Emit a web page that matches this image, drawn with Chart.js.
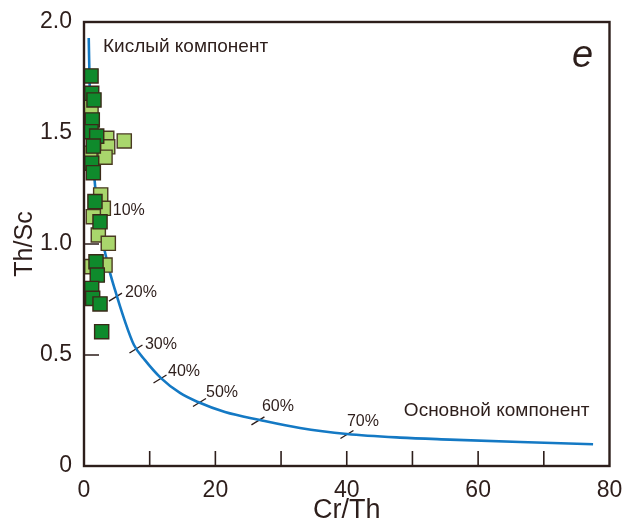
<!DOCTYPE html>
<html>
<head>
<meta charset="utf-8">
<script src="https://cdn.jsdelivr.net/npm/chart.js@4/dist/chart.umd.min.js"></script>
<style>
  html, body { margin: 0; padding: 0; background: #ffffff; }
  #wrap { width: 629px; height: 529px; }
</style>
</head>
<body>
<div id="wrap"><canvas id="c" width="629" height="529"></canvas></div>
<script>
// Mixing curve between the felsic and mafic end-members (Cr/Th vs Th/Sc)
const curveX = [0.72, 0.91, 1.14, 1.42, 1.75, 2.21, 2.82, 3.65, 4.72, 6.16, 7.61, 9.28, 11.72, 14.61, 17.35, 21.46, 26.79, 32.88, 40.03, 48.1, 55.7, 66.4, 77.5];
const curveY = [1.928, 1.649, 1.468, 1.356, 1.243, 1.131, 1.018, 0.905, 0.793, 0.658, 0.545, 0.477, 0.396, 0.329, 0.288, 0.243, 0.207, 0.171, 0.144, 0.128, 0.119, 0.108, 0.098];

// Mixing proportions marked along the curve
const mixLabels = ['10%', '20%', '30%', '40%', '50%', '60%', '70%'];
const mixX = [2.25, 4.79, 7.91, 11.57, 17.58, 26.48, 40.03];
const mixY = [1.122, 0.761, 0.527, 0.392, 0.286, 0.203, 0.142];

// Samples, dark green group
const darkX = [1.07, 1.17, 1.52, 1.26, 1.07, 1.93, 1.42, 1.17, 1.42, 1.67, 2.44, 1.83, 2.02, 1.17, 1.32, 2.44, 2.69];
const darkY = [1.757, 1.679, 1.649, 1.559, 1.506, 1.486, 1.441, 1.364, 1.321, 1.191, 1.100, 0.920, 0.860, 0.800, 0.755, 0.730, 0.605];

// Samples, light green group
const lightX = [1.07, 3.46, 6.13, 3.61, 0.91, 3.20, 2.54, 2.94, 1.42, 2.18, 3.70, 1.17, 3.20];
const lightY = [1.618, 1.476, 1.464, 1.438, 1.409, 1.391, 1.221, 1.161, 1.123, 1.041, 1.003, 0.898, 0.905];

// Axis labels
const xTitle = 'Cr/Th';
const yTitle = 'Th/Sc';
const felsicLabel = 'Кислый компонент';
const maficLabel = 'Основной компонент';
const panelLetter = 'e';

const ink = '#2d1e1b';
const FONT = '"Liberation Sans", Arial, Helvetica, sans-serif';

const toPoints = (xs, ys) => xs.map((x, i) => ({ x: x, y: ys[i] }));

// Inward tick marks on both axes, frame and text annotations
const axisTicks = {
  id: 'axisTicks',
  beforeDatasetsDraw(chart) {
    const { ctx, chartArea: a, scales: { x, y } } = chart;
    ctx.save();
    ctx.strokeStyle = ink;
    ctx.lineWidth = 1.6;
    ctx.beginPath();
    x.ticks.forEach(t => {
      if (t.value <= x.min || t.value >= x.max) return;
      const px = x.getPixelForValue(t.value);
      ctx.moveTo(px, a.bottom);
      ctx.lineTo(px, a.bottom - 15);
    });
    y.ticks.forEach(t => {
      if (t.value <= y.min || t.value >= y.max) return;
      const py = y.getPixelForValue(t.value);
      ctx.moveTo(a.left, py);
      ctx.lineTo(a.left + 15, py);
    });
    ctx.stroke();

    // short marks crossing the mixing curve
    ctx.lineWidth = 1.4;
    ctx.beginPath();
    mixX.forEach((mx, i) => {
      const px = x.getPixelForValue(mx);
      const py = y.getPixelForValue(mixY[i]);
      ctx.moveTo(px - 6.5, py + 4);
      ctx.lineTo(px + 6.5, py - 4);
    });
    ctx.stroke();
    ctx.restore();
  },
  afterDatasetsDraw(chart) {
    const { ctx, chartArea: a, scales: { x, y } } = chart;
    ctx.save();
    // plot frame
    ctx.strokeStyle = ink;
    ctx.lineWidth = 2.4;
    ctx.strokeRect(a.left, a.top, a.right - a.left, a.bottom - a.top);

    // percentage labels next to the curve marks
    const offs = [[14, -6], [9.5, -4], [9, -4], [8, -7], [6.5, -9.5], [4, -14], [0, -13]];
    ctx.fillStyle = ink;
    ctx.font = '16px ' + FONT;
    ctx.textAlign = 'left';
    ctx.textBaseline = 'middle';
    mixLabels.forEach((lab, i) => {
      const px = x.getPixelForValue(mixX[i]);
      const py = y.getPixelForValue(mixY[i]);
      ctx.fillText(lab, px + offs[i][0], py + offs[i][1]);
    });

    // end-member names
    ctx.font = '19px ' + FONT;
    ctx.fillText(felsicLabel, a.left + 19, a.top + 25);
    ctx.textAlign = 'right';
    ctx.fillText(maficLabel, a.right - 20, a.top + 388.5);

    // panel letter
    ctx.font = 'italic 38px ' + FONT;
    ctx.textAlign = 'center';
    ctx.textBaseline = 'alphabetic';
    ctx.fillText(panelLetter, a.right - 27, a.top + 45);
    ctx.restore();
  }
};

new Chart(document.getElementById('c'), {
  type: 'scatter',
  data: {
    datasets: [
      {
        label: 'dark',
        data: toPoints(darkX, darkY),
        pointStyle: 'rect',
        pointRadius: 10,
        pointBackgroundColor: '#0f8a2c',
        pointBorderColor: '#3a2a18',
        pointBorderWidth: 1.4
      },
      {
        label: 'light',
        data: toPoints(lightX, lightY),
        pointStyle: 'rect',
        pointRadius: 10,
        pointBackgroundColor: '#a9d66c',
        pointBorderColor: '#4a3a22',
        pointBorderWidth: 1.4
      },
      {
        label: 'mixing',
        data: toPoints(curveX, curveY),
        showLine: true,
        borderColor: '#1479c4',
        borderWidth: 2.6,
        pointRadius: 0,
        cubicInterpolationMode: 'monotone',
        fill: false
      }
    ]
  },
  options: {
    responsive: false,
    animation: false,
    devicePixelRatio: 1,
    layout: { padding: { top: 22, right: 19.5, left: 0, bottom: 0 } },
    plugins: { legend: { display: false }, tooltip: { enabled: false } },
    scales: {
      x: {
        type: 'linear',
        min: 0,
        max: 80,
        grid: { display: false, drawTicks: false },
        border: { display: false },
        ticks: {
          stepSize: 10,
          autoSkip: false,
          maxRotation: 0,
          padding: 11,
          color: ink,
          font: { family: FONT, size: 23 },
          callback: v => (v % 20 === 0 ? String(v) : '')
        },
        title: {
          display: true,
          text: xTitle,
          color: ink,
          font: { family: FONT, size: 27 },
          padding: { top: 0, bottom: 2 }
        },
        afterFit: s => { s.height = 63; s.paddingLeft = 0; s.paddingRight = 0; }
      },
      y: {
        type: 'linear',
        min: 0,
        max: 2,
        grid: { display: false, drawTicks: false },
        border: { display: false },
        ticks: {
          stepSize: 0.5,
          padding: 12,
          color: ink,
          font: { family: FONT, size: 23 },
          callback: v => (v === 0 ? '0' : v.toFixed(1))
        },
        title: {
          display: true,
          text: yTitle,
          color: ink,
          font: { family: FONT, size: 25 },
          padding: { top: 10, bottom: 0 }
        },
        afterFit: s => { s.width = 84; s.paddingTop = 0; s.paddingBottom = 0; }
      }
    }
  },
  plugins: [axisTicks]
});
</script>
</body>
</html>
